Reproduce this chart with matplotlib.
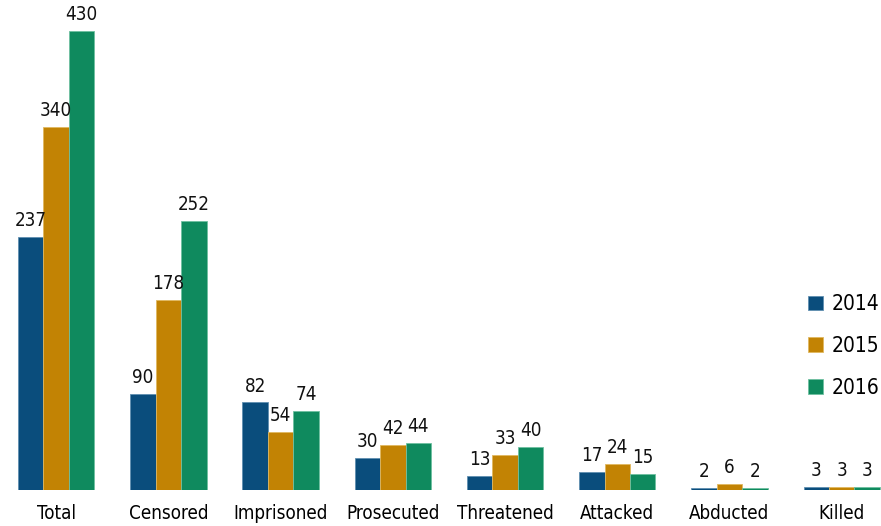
import matplotlib.pyplot as plt
import numpy as np

categories = ['Total', 'Censored', 'Imprisoned', 'Prosecuted', 'Threatened', 'Attacked', 'Abducted', 'Killed']
years = ['2014', '2015', '2016']
v2014 = [237, 90, 82, 30, 13, 17, 2, 3]
v2015 = [340, 178, 54, 42, 33, 24, 6, 3]
v2016 = [430, 252, 74, 44, 40, 15, 2, 3]
colors = ['#0a4d7c', '#c28304', '#0f8a5e']
edges = ['#5f8fb0', '#e0b860', '#6fc0a0']

fig = plt.figure(figsize=(8.81, 5.26), dpi=100)
ax = fig.add_axes([0, 36 / 526, 1, 490 / 526])

x = np.arange(len(categories))
w = 0.227
for i, (vals, c, ec) in enumerate(zip([v2014, v2015, v2016], colors, edges)):
    bars = ax.bar(x + (i - 1) * w, vals, w, color=c, edgecolor=ec, linewidth=0.6, label=years[i])
    ax.bar_label(bars, padding=5, fontsize=13.5, fontstretch='condensed', color='#111111')

ax.set_xlim(-0.5, 7.35)
ax.set_ylim(0, 459)
ax.set_xticks(x)
ax.set_xticklabels(categories, fontsize=13.5, fontstretch='condensed')
ax.tick_params(axis='x', length=0, pad=10)
ax.set_yticks([])
for s in ax.spines.values():
    s.set_visible(False)

ax.legend(loc='center left', bbox_to_anchor=(808 / 881, 1 - 346 / 490), frameon=False,
          prop={'size': 15, 'stretch': 'condensed'}, handlelength=0.7, handleheight=0.7,
          handletextpad=0.45, labelspacing=1.05, borderaxespad=0, borderpad=0)

fig.savefig('out.png', dpi=100)
